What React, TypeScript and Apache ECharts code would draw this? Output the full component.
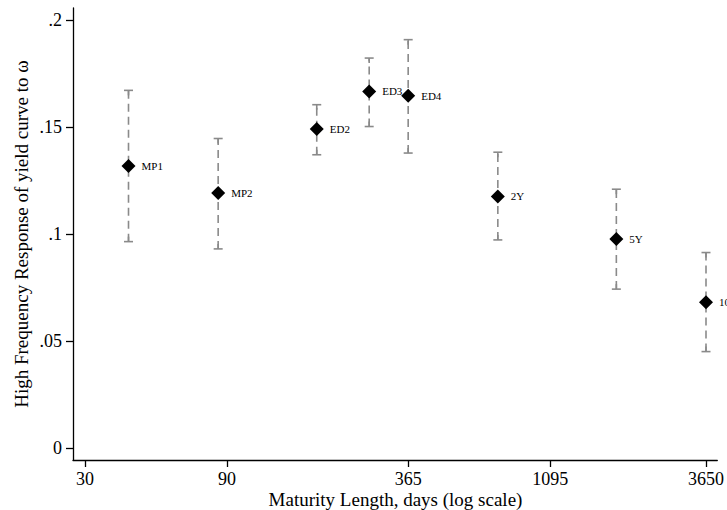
import React, { useEffect, useRef } from "react";
import * as echarts from "echarts";

const names = ["MP1", "MP2", "ED2", "ED3", "ED4", "2Y", "5Y", "10Y"];
const maturityDays = [42, 84, 180, 270, 365, 730, 1825, 3650];
const response = [0.132, 0.1193, 0.1492, 0.1668, 0.1648, 0.1177, 0.0978, 0.0683];
const upperCI = [0.1673, 0.1448, 0.1606, 0.1824, 0.191, 0.1384, 0.1211, 0.0915];
const lowerCI = [0.0966, 0.0932, 0.1372, 0.1504, 0.138, 0.0974, 0.0744, 0.0452];
const xTickDays = [30, 90, 365, 1095, 3650];
const yTicks = [0, 0.05, 0.1, 0.15, 0.2];

const FONT = "Liberation Serif";

export default function App() {
  const ref = useRef<HTMLDivElement>(null);
  useEffect(() => {
    if (!ref.current) return;
    const chart = echarts.init(ref.current, null, { renderer: "svg" });
    const lnTicks = xTickDays.map((d) => Math.log(d));
    const points = maturityDays.map((d, i) => ({
      value: [Math.log(d), response[i]],
      name: names[i],
    }));
    const bars = maturityDays.map((d, i) => [Math.log(d), lowerCI[i], upperCI[i]]);
    const grey = "#8a8a8a";
    chart.setOption({
      animation: false,
      backgroundColor: "#ffffff",
      grid: { left: 73, right: 9, top: 8, bottom: 50, containLabel: false },
      xAxis: {
        type: "value",
        min: Math.log(30) - 0.0927,
        max: Math.log(3650) + 0.0873,
        splitLine: { show: false },
        axisLine: { show: true, onZero: false, lineStyle: { color: "#000", width: 1.3 } },
        axisTick: {
          show: true,
          length: 7,
          customValues: lnTicks,
          lineStyle: { color: "#000", width: 1.3 },
        },
        axisLabel: {
          customValues: lnTicks,
          margin: 10,
          lineHeight: 18,
          fontFamily: FONT,
          fontSize: 18,
          color: "#000",
          showMinLabel: true,
          showMaxLabel: true,
          formatter: (v: number) => String(Math.round(Math.exp(v))),
        },
      },
      yAxis: {
        type: "value",
        min: -0.00547,
        max: 0.2058,
        splitLine: { show: false },
        axisLine: { show: true, onZero: false, lineStyle: { color: "#000", width: 1.3 } },
        axisTick: {
          show: true,
          length: 7,
          customValues: yTicks,
          lineStyle: { color: "#000", width: 1.3 },
        },
        axisLabel: {
          customValues: yTicks,
          margin: 11,
          fontFamily: FONT,
          fontSize: 18,
          color: "#000",
          formatter: (v: number) => (v === 0 ? "0" : String(v).replace(/^0\./, ".")),
        },
      },
      series: [
        {
          type: "custom",
          z: 1,
          data: bars,
          renderItem: (params: any, api: any) => {
            const x = api.value(0);
            const lo = api.coord([x, api.value(1)]);
            const hi = api.coord([x, api.value(2)]);
            const cw = 4.5;
            return {
              type: "group",
              children: [
                {
                  type: "line",
                  shape: { x1: lo[0], y1: lo[1], x2: hi[0], y2: hi[1] },
                  style: { stroke: grey, lineWidth: 1.6, lineDash: [8, 5] },
                },
                {
                  type: "line",
                  shape: { x1: hi[0] - cw, y1: hi[1], x2: hi[0] + cw, y2: hi[1] },
                  style: { stroke: grey, lineWidth: 1.6 },
                },
                {
                  type: "line",
                  shape: { x1: lo[0] - cw, y1: lo[1], x2: lo[0] + cw, y2: lo[1] },
                  style: { stroke: grey, lineWidth: 1.6 },
                },
                {
                  type: "line",
                  shape: { x1: hi[0], y1: hi[1], x2: hi[0], y2: hi[1] + 5 },
                  style: { stroke: grey, lineWidth: 1.6 },
                },
                {
                  type: "line",
                  shape: { x1: lo[0], y1: lo[1], x2: lo[0], y2: lo[1] - 5 },
                  style: { stroke: grey, lineWidth: 1.6 },
                },
              ],
            };
          },
        },
        {
          type: "scatter",
          z: 3,
          symbol: "diamond",
          symbolSize: 14,
          itemStyle: { color: "#000", opacity: 1 },
          data: points,
          label: {
            show: true,
            position: "right",
            distance: 6,
            formatter: (p: any) => p.name,
            fontFamily: FONT,
            fontSize: 11,
            color: "#000",
          },
        },
      ],
      graphic: [
        {
          type: "text",
          x: 395.5,
          y: 499,
          style: {
            text: "Maturity Length, days (log scale)",
            font: `19px "${FONT}"`,
            fill: "#000",
            textAlign: "center",
            textVerticalAlign: "middle",
          },
        },
        {
          type: "text",
          x: 21,
          y: 234,
          rotation: Math.PI / 2,
          style: {
            text: "High Frequency Response of yield curve to ω",
            font: `19px "${FONT}"`,
            fill: "#000",
            textAlign: "center",
            textVerticalAlign: "middle",
          },
        },
      ],
    });
    return () => chart.dispose();
  }, []);
  return (
    <div
      ref={ref}
      style={{ position: "fixed", left: 0, top: 0, width: 727, height: 510, background: "#fff" }}
    />
  );
}
